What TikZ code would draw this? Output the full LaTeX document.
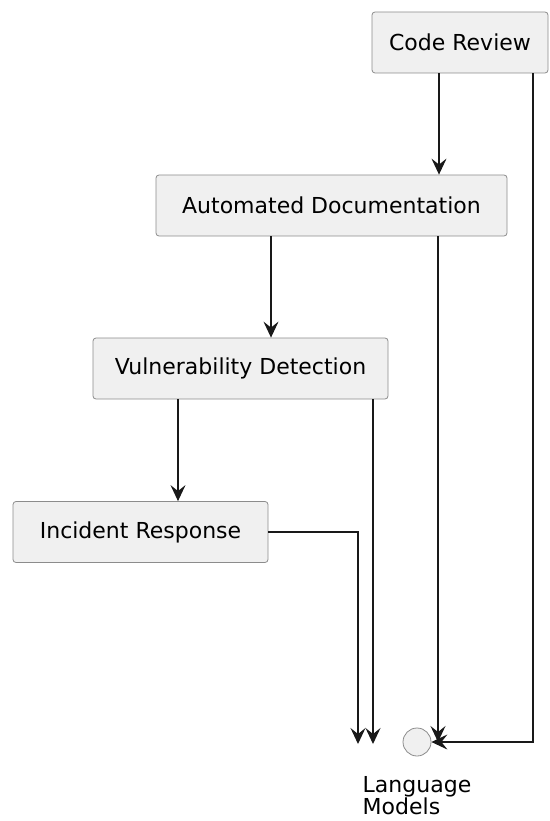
\documentclass[tikz,border=0pt]{standalone}
\usepackage{fontspec}
\setmainfont{DejaVu Sans}
\usetikzlibrary{arrows.meta,positioning}

\begin{document}
\begin{tikzpicture}[x=1pt, y=-1pt,
  font=\fontsize{22}{21}\selectfont,
  act/.style={rectangle, rounded corners=3pt, draw=black!45, fill=black!6, line width=0.8pt,
              minimum width=#1, minimum height=61pt, inner sep=0pt, align=center},
  ar/.style={-{Stealth[length=16pt, width=15pt, inset=6pt]}, line width=1.3pt, black!90}]
  \useasboundingbox (0,0) rectangle (549,821);
  \node[act=176pt] (cr) at (460,42.5) {Code Review};
  \node[act=351pt] (ad) at (331.5,205.5) {Automated Documentation};
  \node[act=295pt] (vd) at (240.5,368.5) {Vulnerability Detection};
  \node[act=255pt] (ir) at (140.5,532) {Incident Response};
  \node[circle, draw=black!45, fill=black!6, line width=0.8pt, minimum size=28pt, inner sep=0pt] (lm) at (417,742) {};
  \node[below=20pt of lm, align=left, inner sep=0pt] (lml) {Language\\Models};
  % exit points
  \coordinate (cr-a) at ([xshift=-21pt]cr.south);
  \coordinate (cr-b) at ([xshift=73pt]cr.south);
  \coordinate (ad-a) at ([xshift=-60.5pt]ad.south);
  \coordinate (ad-b) at ([xshift=106.5pt]ad.south);
  \coordinate (vd-a) at ([xshift=-62.5pt]vd.south);
  \coordinate (vd-b) at ([xshift=132.5pt]vd.south);
  \coordinate (vd-end) at (373,744);
  \coordinate (ir-end) at (358,744);
  \draw[ar] (cr-a) -- (cr-a |- ad.north);
  \draw[ar] (cr-b) |- (lm.east);
  \draw[ar] (ad-a) -- (ad-a |- vd.north);
  \draw[ar] (ad-b) -- (ad-b |- lm.east);
  \draw[ar] (vd-a) -- (vd-a |- ir.north);
  \draw[ar] (vd-b) -- (vd-end);
  \draw[ar] (ir.east) -| (ir-end);
\end{tikzpicture}
\end{document}
